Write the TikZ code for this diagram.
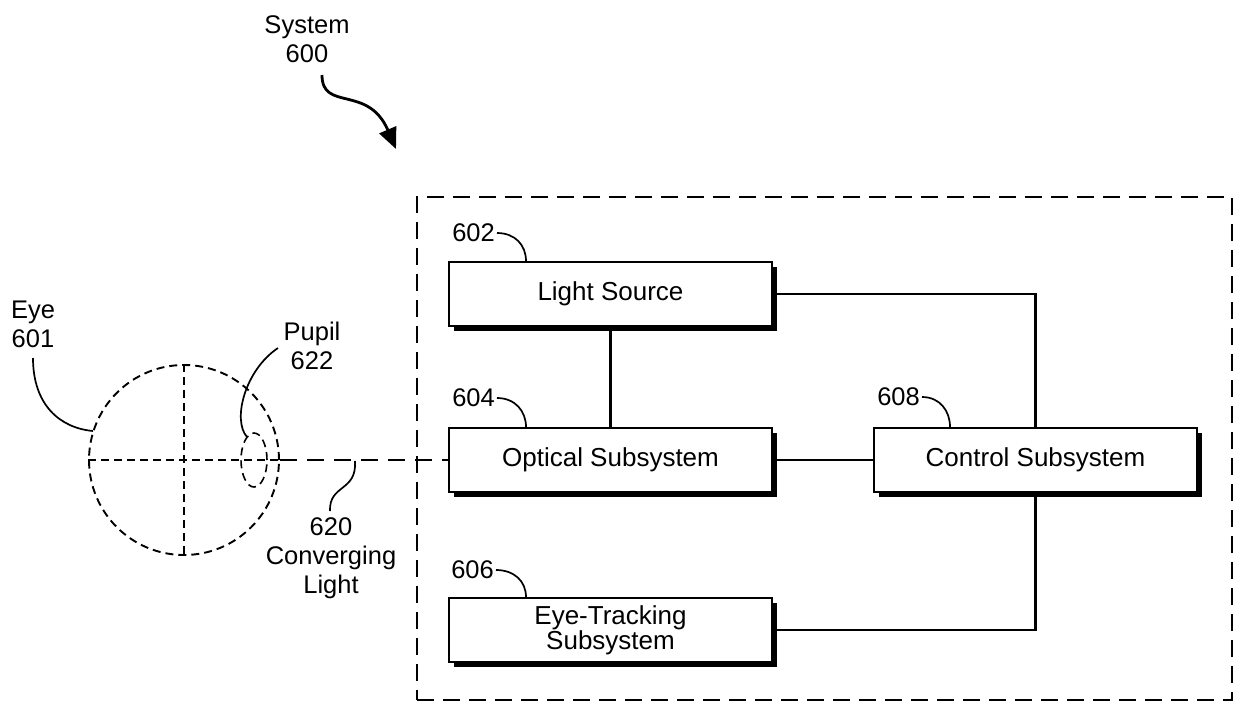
\documentclass[tikz,border=0pt]{standalone}
\usepackage{fontspec}
\setmainfont{Liberation Sans}
\usetikzlibrary{shadows,shapes.geometric,arrows.meta}
\begin{document}
\begin{tikzpicture}[x=1pt,y=-1pt,
  lbl/.style={font=\fontsize{25.5}{29}\selectfont, align=center, inner sep=0pt},
  blk/.style={draw, line width=2.2pt, fill=white, minimum width=323pt, minimum height=64pt,
    font=\fontsize{26}{24}\selectfont, align=center, inner sep=0pt,
    drop shadow={shadow xshift=5pt, shadow yshift=-5pt, fill=black, opacity=1}},
  conn/.style={line width=2.2pt},
  leader/.style={line width=1.7pt},
  sysbox/.style={draw, line width=2.8pt, dash pattern=on 17pt off 9pt, minimum width=815pt, minimum height=503pt, inner sep=0pt},
  eyedash/.style={line width=1.9pt, dash pattern=on 8pt off 5pt},
  lightdash/.style={line width=2.3pt, dash pattern=on 17pt off 10pt}
]
\useasboundingbox (0,0) rectangle (1236,702);

% system boundary
\node[sysbox] (sys) at (824.5,448.5) {};

% blocks
\node[blk] (ls) at (610.5,294) {Light Source};
\node[blk] (os) at (610.5,460) {Optical Subsystem};
\node[blk] (et) at (610.5,630) {Eye-Tracking\\Subsystem};
\node[blk] (cs) at (1035.5,460) {Control Subsystem};

% connectors
\draw[conn] (ls.south) -- (os.north);
\draw[conn] (ls.east) -| (cs.north);
\draw[conn] (os.east) -- (cs.west);
\draw[conn] (cs.south) |- (et.east);

% block labels
\node[lbl, anchor=east] (l602) at (495,233) {602};
\node[lbl, anchor=east] (l604) at (495,398) {604};
\node[lbl, anchor=east] (l606) at (494,570) {606};
\node[lbl, anchor=east] (l608) at (920,397) {608};
\coordinate (t602) at (526,261);
\coordinate (t604) at (526,427);
\coordinate (t606) at (526,597);
\coordinate (t608) at (950,427);
\draw[leader] ([xshift=2pt]l602.east) .. controls ++(18,0) and ++(0,-16) .. (t602);
\draw[leader] ([xshift=2pt]l604.east) .. controls ++(18,0) and ++(0,-16) .. (t604);
\draw[leader] ([xshift=2pt]l606.east) .. controls ++(18,0) and ++(0,-16) .. (t606);
\draw[leader] ([xshift=2pt]l608.east) .. controls ++(18,0) and ++(0,-16) .. (t608);

% eye
\node[circle, draw, eyedash, minimum size=190pt, inner sep=0pt] (eye) at (184,460) {};
\draw[eyedash] (eye.north) -- (eye.south);
\draw[eyedash] (eye.west) -- (eye.east);
\node[ellipse, draw, eyedash, line width=1.6pt, minimum width=26pt, minimum height=54pt, inner sep=0pt] (pupil) at (254,460) {};
\draw[lightdash] (eye.east) -- (os.west);

% eye labels
\node[lbl] (leye) at (33,324) {Eye\\601};
\coordinate (teye) at (93,431);
\draw[leader] (33,358) .. controls (33,405) and (60,428) .. (teye);

\node[lbl] (lpupil) at (312,346) {Pupil\\622};
\coordinate (tpupil) at (247,437);
\draw[leader] (278,348) .. controls (245,370) and (232,420) .. (tpupil);

\node[lbl] (l620) at (331,558) {620\\Converging\\Light};
\coordinate (s620) at (355,461);
\draw[leader] (s620) .. controls (357,492) and (329,484) .. (330,511);

% system label and arrow
\node[lbl] (lsys) at (307,39) {System\\600};
\coordinate (asys) at (396,149);
\draw[line width=2.8pt, -{Triangle[length=21pt,width=18pt]}] (322,75) .. controls (322,112) and (368,84) .. (asys);
\end{tikzpicture}
\end{document}
